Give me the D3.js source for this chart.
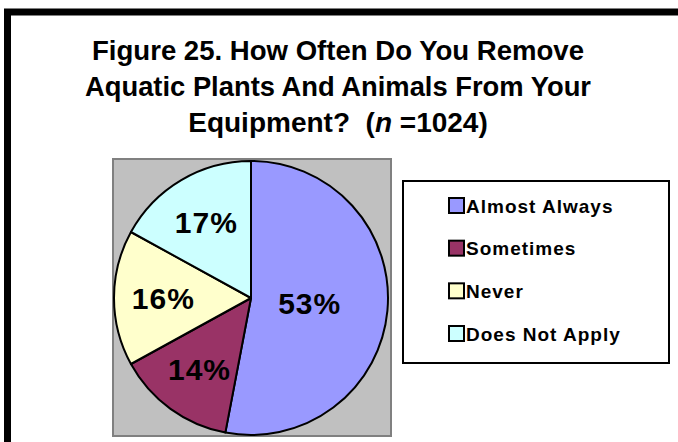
<!DOCTYPE html>
<html>
<head>
<meta charset="utf-8">
<script src="https://cdn.jsdelivr.net/npm/d3@7"></script>
<style>
  body { margin: 0; background: #fff; }
  svg { display: block; font-family: Arial, "Liberation Sans", sans-serif; }
</style>
</head>
<body>
<svg width="678" height="442"></svg>
<script>
// Chart data
const categories = ["Almost Always", "Sometimes", "Never", "Does Not Apply"];
const percents = [53, 14, 16, 17];
const sliceColors = ["#9999ff", "#993366", "#ffffcc", "#ccffff"];
const titleLines = ["Figure 25. How Often Do You Remove", "Aquatic Plants And Animals From Your"];

const width = 678;
const height = 442;

const svg = d3.select("svg")
    .attr("viewBox", `0 0 ${width} ${height}`);

// outer frame (right/bottom edges fall outside the picture)
svg.append("rect")
    .attr("x", 7.5)
    .attr("y", 12)
    .attr("width", 700)
    .attr("height", 460)
    .style("fill", "#fff")
    .style("stroke", "#000")
    .style("stroke-width", 7);

// title
const title = svg.append("text")
    .attr("text-anchor", "middle")
    .style("font-size", "28px")
    .style("font-weight", "bold");

titleLines.forEach((line, i) => {
    title.append("tspan")
        .attr("x", 338)
        .attr("y", 60 + i * 36)
        .attr("textLength", i === 0 ? 492 : 506)
        .attr("lengthAdjust", "spacingAndGlyphs")
        .text(line);
});

const lastLine = title.append("tspan")
    .attr("x", 338)
    .attr("y", 132);
lastLine.append("tspan").text("Equipment?\u00a0\u00a0(");
lastLine.append("tspan").style("font-style", "italic").text("n");
lastLine.append("tspan").text(" =1024)");

// plot area
const plot = { x: 113, y: 159, w: 278, h: 277 };
svg.append("rect")
    .attr("x", plot.x)
    .attr("y", plot.y)
    .attr("width", plot.w)
    .attr("height", plot.h)
    .style("fill", "#c0c0c0")
    .style("stroke", "#808080")
    .style("stroke-width", 2);

// pie
const cx = 251, cy = 298, radius = 137;
const total = d3.sum(percents);

const pie = d3.pie()
    .sort(null)
    .value(d => d);

const arc = d3.arc()
    .innerRadius(0)
    .outerRadius(radius);

const arcs = pie(percents);

const pieG = svg.append("g")
    .attr("transform", `translate(${cx},${cy})`);

pieG.selectAll("path")
    .data(arcs)
    .enter().append("path")
    .attr("d", arc)
    .style("fill", (d, i) => sliceColors[i])
    .style("stroke", "#000")
    .style("stroke-width", 2)
    .style("stroke-linejoin", "round");

// labels: big slice sits nearer the middle, like Excel's best fit
pieG.selectAll("text")
    .data(arcs)
    .enter().append("text")
    .attr("transform", d => {
        const r = d.value / total > 0.5 ? radius * 0.43 : radius * 0.64;
        const a = (d.startAngle + d.endAngle) / 2;
        return `translate(${Math.sin(a) * r},${-Math.cos(a) * r})`;
    })
    .attr("dy", "0.36em")
    .attr("text-anchor", "middle")
    .style("font-size", "30px")
    .style("font-weight", "bold")
    .style("letter-spacing", "1px")
    .style("fill", "#000")
    .text(d => d.value + "%");

// legend
const legend = svg.append("g");
legend.append("rect")
    .attr("x", 403)
    .attr("y", 181)
    .attr("width", 266)
    .attr("height", 182)
    .style("fill", "#fff")
    .style("stroke", "#000")
    .style("stroke-width", 2);

const rowY = d3.scalePoint()
    .domain(categories)
    .range([205, 333]);

const items = legend.selectAll(".item")
    .data(categories)
    .enter().append("g")
    .attr("class", "item")
    .attr("transform", d => `translate(448,${rowY(d)})`);

items.append("rect")
    .attr("x", 1)
    .attr("y", -7)
    .attr("width", 15)
    .attr("height", 15)
    .style("fill", (d, i) => sliceColors[i])
    .style("stroke", "#000")
    .style("stroke-width", 2);

items.append("text")
    .attr("x", 18)
    .attr("y", 7.5)
    .style("font-size", "19px")
    .style("font-weight", "bold")
    .style("letter-spacing", "1px")
    .text(d => d);
</script>
</body>
</html>
